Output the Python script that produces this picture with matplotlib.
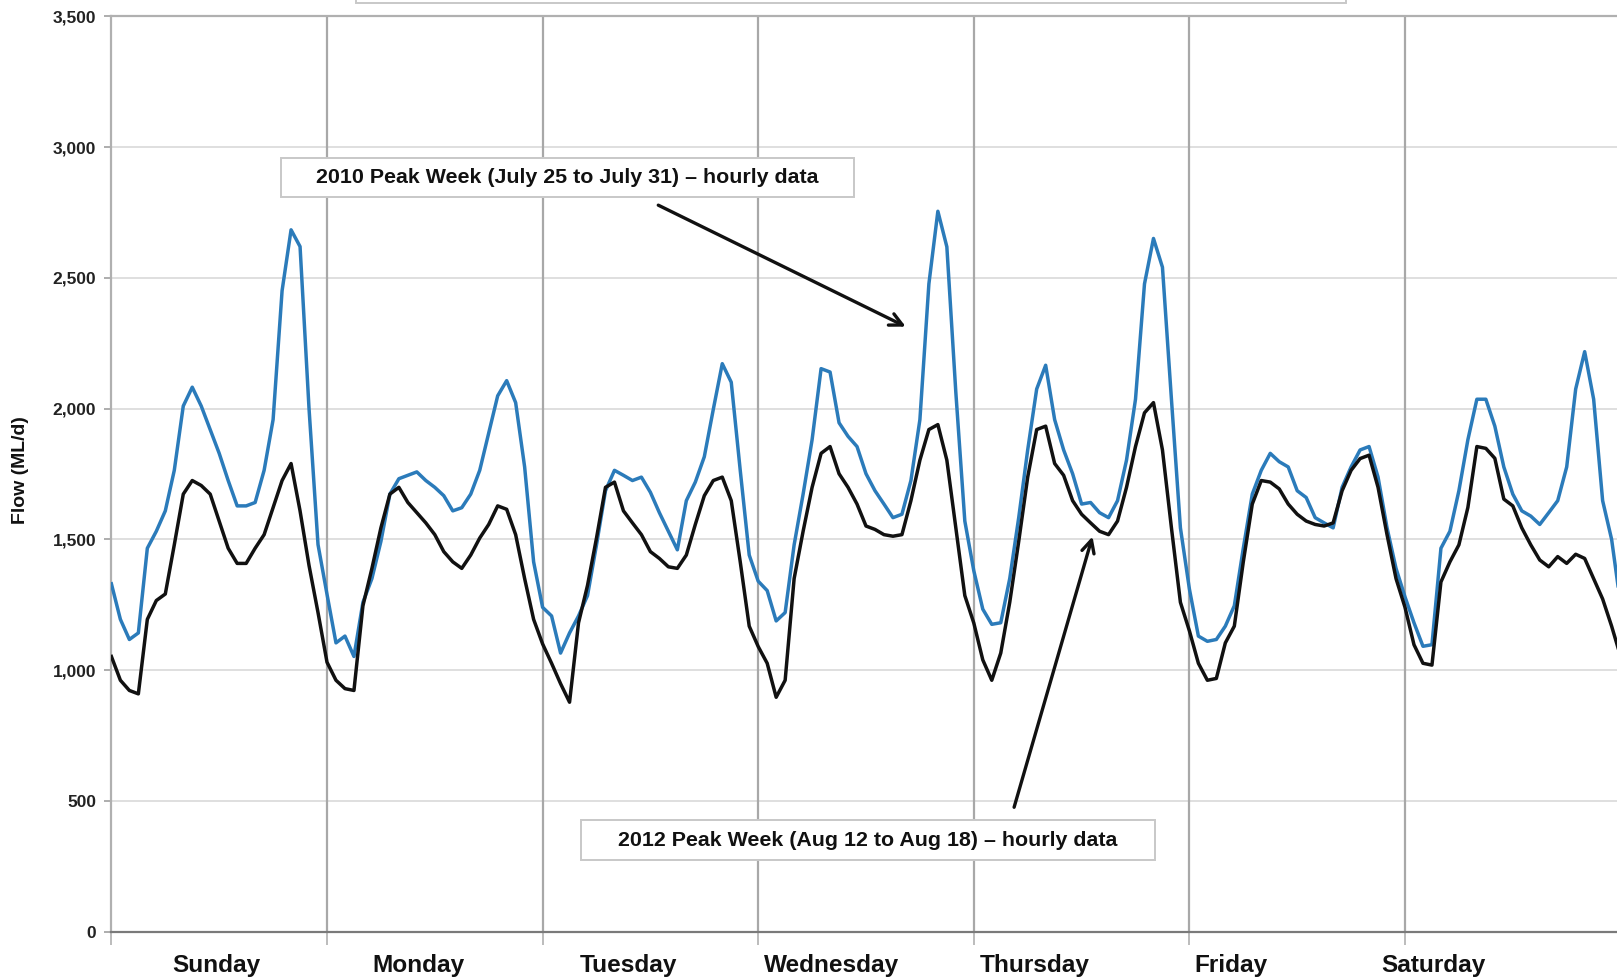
import numpy as np
import matplotlib
matplotlib.use("Agg")
import matplotlib.pyplot as plt
from matplotlib.patches import Rectangle

plt.rcParams['font.family'] = ['Liberation Sans', 'DejaVu Sans']

days = ["Sunday", "Monday", "Tuesday", "Wednesday", "Thursday", "Friday", "Saturday"]

# 2010 peak week, hourly flow (ML/d), one list per day (hour 0..23)
sun_2010 = [1330, 1194, 1117, 1142, 1466, 1531, 1609, 1764, 2010, 2082, 2010, 1920, 1829, 1725, 1628, 1628, 1641, 1764, 1958, 2451, 2684, 2620, 2000, 1480]
mon_2010 = [1290, 1104, 1130, 1052, 1259, 1350, 1492, 1673, 1732, 1745, 1758, 1725, 1699, 1667, 1609, 1621, 1673, 1764, 1907, 2049, 2107, 2023, 1777, 1414]
tue_2010 = [1240, 1207, 1065, 1142, 1207, 1285, 1479, 1686, 1764, 1745, 1725, 1738, 1680, 1602, 1531, 1460, 1648, 1719, 1816, 1997, 2172, 2101, 1764, 1440]
wed_2010 = [1340, 1304, 1188, 1220, 1479, 1673, 1881, 2153, 2140, 1946, 1894, 1855, 1751, 1686, 1635, 1583, 1596, 1725, 1958, 2477, 2755, 2619, 2062, 1570]
thu_2010 = [1380, 1233, 1175, 1181, 1350, 1583, 1842, 2075, 2166, 1958, 1842, 1751, 1635, 1641, 1602, 1583, 1648, 1803, 2036, 2477, 2651, 2541, 2036, 1544]
fri_2010 = [1310, 1130, 1110, 1117, 1168, 1246, 1466, 1673, 1764, 1829, 1797, 1777, 1686, 1660, 1583, 1563, 1544, 1699, 1777, 1842, 1855, 1738, 1544, 1389]
sat_2010 = [1280, 1181, 1091, 1097, 1466, 1531, 1686, 1881, 2036, 2036, 1933, 1777, 1673, 1609, 1589, 1557, 1602, 1648, 1777, 2075, 2218, 2036, 1648, 1500]
end_2010 = [1250]

# 2012 peak week, hourly flow (ML/d)
sun_2012 = [1052, 961, 922, 909, 1194, 1266, 1291, 1479, 1673, 1725, 1706, 1673, 1570, 1466, 1408, 1408, 1466, 1518, 1622, 1725, 1790, 1609, 1400, 1220]
mon_2012 = [1030, 961, 929, 922, 1246, 1389, 1544, 1673, 1699, 1641, 1602, 1563, 1518, 1453, 1414, 1389, 1440, 1505, 1557, 1628, 1615, 1518, 1350, 1194]
tue_2012 = [1100, 1026, 948, 877, 1181, 1324, 1505, 1699, 1719, 1609, 1563, 1518, 1453, 1427, 1395, 1389, 1440, 1557, 1667, 1725, 1738, 1648, 1414, 1168]
wed_2012 = [1090, 1026, 896, 961, 1350, 1531, 1699, 1829, 1855, 1751, 1699, 1635, 1551, 1538, 1518, 1512, 1518, 1648, 1803, 1920, 1939, 1803, 1544, 1285]
thu_2012 = [1180, 1039, 961, 1065, 1259, 1492, 1738, 1920, 1933, 1790, 1745, 1648, 1596, 1563, 1531, 1518, 1570, 1699, 1855, 1984, 2023, 1842, 1544, 1259]
fri_2012 = [1150, 1026, 961, 968, 1104, 1168, 1414, 1635, 1725, 1719, 1693, 1635, 1596, 1570, 1557, 1551, 1563, 1686, 1764, 1809, 1822, 1699, 1518, 1350]
sat_2012 = [1240, 1097, 1026, 1019, 1337, 1414, 1479, 1622, 1855, 1848, 1810, 1654, 1628, 1544, 1479, 1421, 1395, 1434, 1408, 1443, 1427, 1350, 1272, 1168]
end_2012 = [1052]

flow_2010 = sun_2010 + mon_2010 + tue_2010 + wed_2010 + thu_2010 + fri_2010 + sat_2010 + end_2010
flow_2012 = sun_2012 + mon_2012 + tue_2012 + wed_2012 + thu_2012 + fri_2012 + sat_2012 + end_2012
hours = np.arange(len(flow_2010))

W, H = 1617, 980
fig = plt.figure(figsize=(W / 100, H / 100), dpi=100)
ax = fig.add_axes([111.4 / W, 48.5 / H, 7 * 215.6 / W, 915 / H])

ax.plot(hours, flow_2010, color="#2b7bba", lw=2.5, solid_joinstyle="round", zorder=3)
ax.plot(hours, flow_2012, color="#111111", lw=2.5, solid_joinstyle="round", zorder=3)

ax.set_xlim(0, 168)
ax.set_ylim(0, 3500)

# gridlines
ax.set_yticks(np.arange(0, 3501, 500))
ax.set_yticklabels([f"{v:,}" for v in range(0, 3501, 500)])
for v in range(500, 3501, 500):
    ax.axhline(v, color="#d9d9d9", lw=1.2, zorder=1)
ax.set_xticks(np.arange(0, 169, 24))
ax.set_xticklabels([])
for d in range(1, 7):
    ax.axvline(24 * d, color="#a8a8a8", lw=1.6, zorder=1)
# the day labels sit on a slightly tighter spacing than the day columns
ax.set_xticks([11.7, 34.2, 57.5, 80.2, 102.8, 124.6, 147.2], minor=True)
ax.set_xticklabels(days, minor=True, fontsize=17.6, fontweight="bold", color="#111111")
ax.tick_params(axis="x", which="minor", length=0, pad=16)
ax.tick_params(axis="x", which="major", length=9, color="#b0b0b0", width=1.2)
ax.tick_params(axis="y", length=5, color="#a0a0a0", width=1.2, pad=6,
               labelsize=12.5, labelcolor="#222222")
for lab in ax.get_yticklabels():
    lab.set_fontweight("bold")

for side in ["left", "top"]:
    ax.spines[side].set_color("#b0b0b0")
    ax.spines[side].set_linewidth(1.6)
ax.spines["bottom"].set_color("#7a7a7a")
ax.spines["bottom"].set_linewidth(1.6)
ax.spines["right"].set_visible(False)

fig.text(20.6 / W, 1 - 470 / H, "Flow (ML/d)", rotation=90, ha="center", va="center",
         fontsize=14, fontweight="bold", color="#111111")


def label_box(x0, y0, x1, y1, text):
    fig.add_artist(Rectangle((x0 / W, 1 - y1 / H), (x1 - x0) / W, (y1 - y0) / H,
                             transform=fig.transFigure, facecolor="white",
                             edgecolor="#c8c8c8", lw=1.4, zorder=5))
    fig.text((x0 + x1) / 2 / W, 1 - (y0 + y1) / 2 / H, text, ha="center", va="center",
             fontsize=15.4, fontweight="bold", color="#111111", zorder=6)


# partly hidden title box at the very top
fig.add_artist(Rectangle((356 / W, 1 - 3 / H), 990 / W, 20 / H, transform=fig.transFigure,
                         facecolor="white", edgecolor="#c8c8c8", lw=1.4))

label_box(281, 158, 854, 197, "2010 Peak Week (July 25 to July 31) \u2013 hourly data")
label_box(581, 820, 1155, 860, "2012 Peak Week (Aug 12 to Aug 18) \u2013 hourly data")

arrow = dict(arrowstyle="->,head_length=0.9,head_width=0.45", color="#111111", lw=2.4)
ax.annotate("", xy=(88.7, 2309), xytext=(60.6, 2783), arrowprops=arrow, zorder=6)
ax.annotate("", xy=(109.3, 1521), xytext=(100.4, 465), arrowprops=arrow, zorder=6)

fig.savefig("out.png", dpi=100, facecolor="white")
